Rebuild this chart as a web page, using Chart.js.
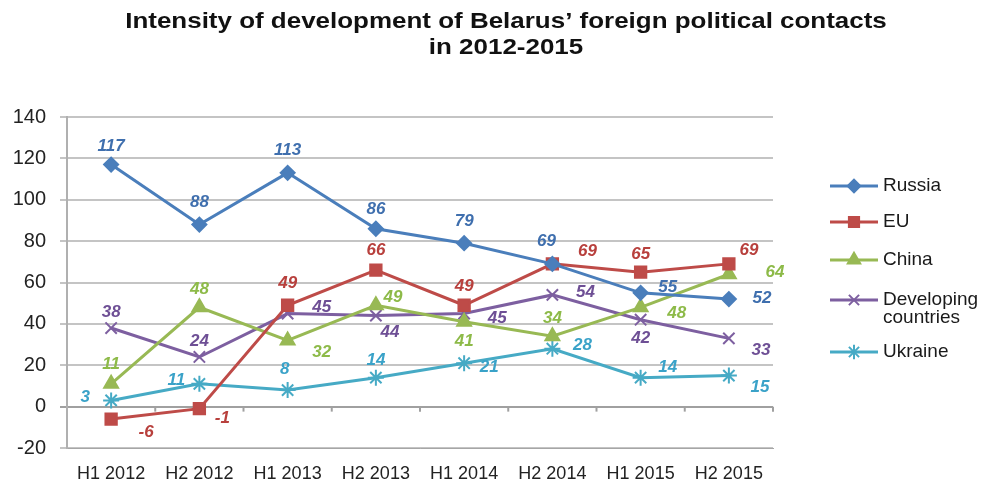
<!DOCTYPE html>
<html>
<head>
<meta charset="utf-8">
<script src="https://cdn.jsdelivr.net/npm/chart.js@4.4.1/dist/chart.umd.min.js"></script>
<style>
  html, body { margin: 0; padding: 0; background: #fff; }
  #wrap { width: 1002px; height: 486px; position: relative; }
</style>
</head>
<body>
<div id="wrap"><canvas id="chart" width="1002" height="486"></canvas></div>
<script>
// datos
const periods = ["H1 2012", "H2 2012", "H1 2013", "H2 2013", "H1 2014", "H2 2014", "H1 2015", "H2 2015"];
const russia = [117, 88, 113, 86, 79, 69, 55, 52];
const eu = [-6, -1, 49, 66, 49, 69, 65, 69];
const china = [11, 48, 32, 49, 41, 34, 48, 64];
const developing = [38, 24, 45, 44, 45, 54, 42, 33];
const ukraine = [3, 11, 8, 14, 21, 28, 14, 15];
const yTicks = [-20, 0, 20, 40, 60, 80, 100, 120, 140];
const titleLines = ["Intensity of development of Belarus\u2019 foreign political contacts", "in 2012-2015"];

// desplazamiento de cada etiqueta respecto a su punto (px)
const labelOffsets = [
  [[0,-18],[0,-22],[0,-23],[0,-19],[0,-22],[-6,-23],[27,-6],[33,-1]],
  [[35,13],[23,10],[0,-22],[0,-20],[0,-19],[35,-13],[0,-18],[20,-14]],
  [[0,-20],[0,-18],[34,12],[17,-8],[0,20],[0,-18],[36,6],[46,-2]],
  [[0,-16],[0,-16],[34,-6],[14,17],[33,5],[33,-3],[0,19],[32,12]],
  [[-26,-3],[-23,-4],[-3,-21],[0,-17],[25,4],[30,-3],[27,-10],[31,12]]
];

const FONT = "'Liberation Sans', Arial, sans-serif";

const titleDraw = {
  id: "titleDraw",
  afterDraw(chart) {
    const ctx = chart.ctx;
    ctx.save();
    ctx.font = "bold 22px " + FONT;
    ctx.fillStyle = "#111";
    ctx.textAlign = "center";
    ctx.textBaseline = "middle";
    // el original está algo estirado en horizontal
    ctx.translate(506, 0);
    ctx.scale(1.18, 1);
    titleLines.forEach((t, i) => ctx.fillText(t, 0, 22 + i * 26));
    ctx.restore();
  }
};

const dataLabels = {
  id: "dataLabels",
  afterDatasetsDraw(chart) {
    const ctx = chart.ctx;
    ctx.save();
    ctx.font = "italic bold 17px " + FONT;
    ctx.textAlign = "center";
    ctx.textBaseline = "middle";
    chart.data.datasets.forEach((ds, i) => {
      const meta = chart.getDatasetMeta(i);
      ctx.fillStyle = ds.labelColor;
      meta.data.forEach((pt, j) => {
        const off = labelOffsets[i][j];
        ctx.fillText(String(ds.data[j]), pt.x + off[0], pt.y + off[1]);
      });
    });
    ctx.restore();
  }
};

// marcas pequeñas sobre la línea del cero, entre categorías
const zeroTicks = {
  id: "zeroTicks",
  beforeDatasetsDraw(chart) {
    const ctx = chart.ctx;
    const y0 = chart.scales.y.getPixelForValue(0);
    const area = chart.chartArea;
    const step = (area.right - area.left) / periods.length;
    ctx.save();
    ctx.strokeStyle = "#a0a0a0";
    ctx.lineWidth = 2;
    for (let i = 1; i <= periods.length; i++) {
      const x = area.left + i * step;
      ctx.beginPath();
      ctx.moveTo(x, y0);
      ctx.lineTo(x, y0 + 5);
      ctx.stroke();
    }
    ctx.restore();
  }
};

// leyenda dibujada a mano para poder partir "Developing countries"
const sideLegend = {
  id: "sideLegend",
  afterDraw(chart) {
    const ctx = chart.ctx;
    const rows = [186, 222, 260, 300, 352];
    const texts = [["Russia"], ["EU"], ["China"], ["Developing", "countries"], ["Ukraine"]];
    ctx.save();
    ctx.textBaseline = "middle";
    ctx.textAlign = "left";
    chart.data.datasets.forEach((ds, i) => {
      const y = rows[i];
      ctx.strokeStyle = ds.borderColor;
      ctx.fillStyle = ds.backgroundColor;
      ctx.lineWidth = 3;
      ctx.beginPath();
      ctx.moveTo(830, y);
      ctx.lineTo(878, y);
      ctx.stroke();
      ctx.lineWidth = 2;
      Chart.helpers.drawPoint(ctx, {
        pointStyle: ds.pointStyle,
        radius: ds.legendRadius,
        borderWidth: 2
      }, 854, y);
      ctx.fillStyle = "#1a1a1a";
      ctx.font = "19px " + FONT;
      texts[i].forEach((t, k) => ctx.fillText(t, 883, y + k * 18));
    });
    ctx.restore();
  }
};

function series(label, data, color, labelColor, style, radius) {
  return {
    label: label,
    data: data,
    borderColor: color,
    backgroundColor: color,
    pointBackgroundColor: color,
    pointBorderColor: color,
    pointBorderWidth: 2,
    borderWidth: 3,
    pointStyle: style,
    pointRadius: radius,
    legendRadius: radius * 0.9,
    labelColor: labelColor,
    tension: 0
  };
}

new Chart(document.getElementById("chart").getContext("2d"), {
  type: "line",
  data: {
    labels: periods,
    datasets: [
      series("Russia", russia, "#4a7ebb", "#3f6fae", "rectRot", 7),
      series("EU", eu, "#be4b48", "#b8403d", "rect", 8),
      series("China", china, "#98b954", "#8dba48", "triangle", 8),
      series("Developing countries", developing, "#7d5fa0", "#6e4f95", "crossRot", 8),
      series("Ukraine", ukraine, "#46aac5", "#3aa2c8", "star", 8)
    ]
  },
  options: {
    responsive: false,
    animation: false,
    layout: { padding: { top: 117, right: 229, bottom: 0, left: 0 } },
    plugins: {
      legend: { display: false },
      tooltip: { enabled: false },
      title: { display: false }
    },
    scales: {
      x: {
        offset: true,
        afterFit: (axis) => { axis.height = 38; },
        grid: { display: false, drawTicks: false },
        border: { color: "#a6a6a6", width: 1 },
        ticks: {
          color: "#222",
          padding: 15,
          font: { family: FONT, size: 18 }
        }
      },
      y: {
        min: -20,
        max: 140,
        afterFit: (axis) => { axis.width = 67; },
        afterBuildTicks: (axis) => { axis.ticks = yTicks.map(v => ({ value: v })); },
        grid: {
          color: (c) => c.tick && c.tick.value === 0 ? "#a0a0a0" : "#c4c4c4",
          lineWidth: 2,
          tickLength: 7
        },
        border: { color: "#b0b0b0", width: 2 },
        ticks: {
          color: "#222",
          padding: 14,
          font: { family: FONT, size: 20 }
        }
      }
    }
  },
  plugins: [zeroTicks, dataLabels, sideLegend, titleDraw]
});
</script>
</body>
</html>
